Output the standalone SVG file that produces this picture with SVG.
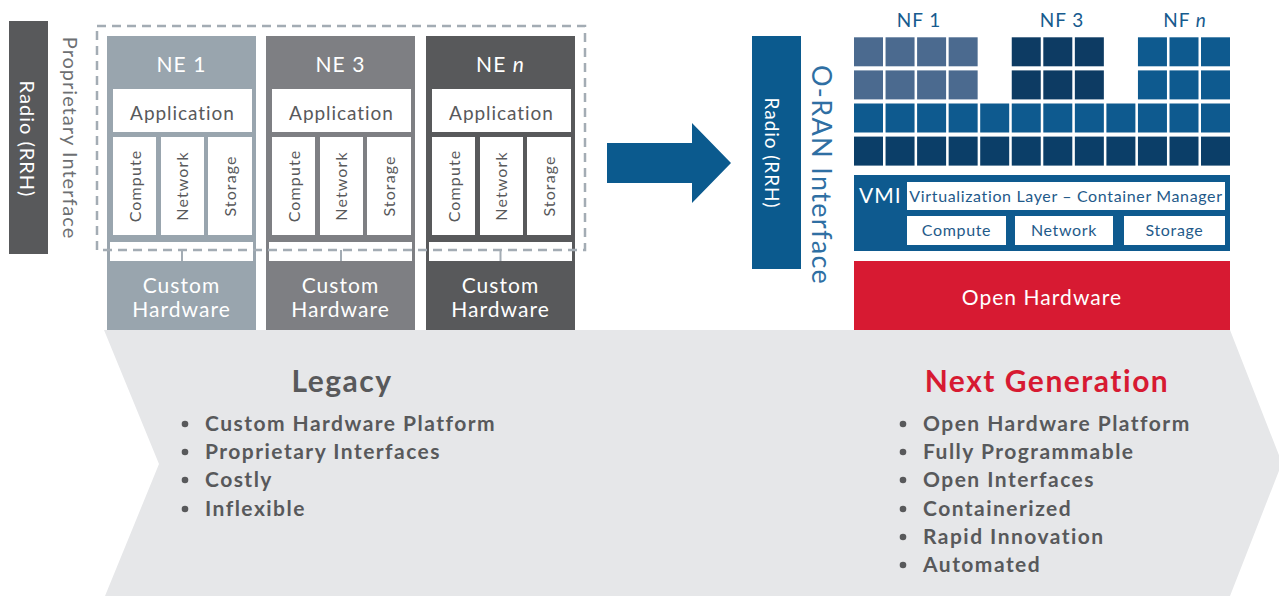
<svg xmlns="http://www.w3.org/2000/svg" width="1279" height="596" viewBox="0 0 1279 596">
<style>
text{font-family:Lato,"Liberation Sans",sans-serif;letter-spacing:0.05em}
.w{fill:#fff}
.ne{font-size:21px;fill:#fff;text-anchor:middle}
.app{font-size:19px;fill:#58595b;text-anchor:middle}
.sub{font-size:16px;fill:#58595b;text-anchor:middle;letter-spacing:0.07em}
.box{fill:#fff}
.dash{fill:none;stroke:#a3acb4;stroke-width:2.5;stroke-dasharray:9 6}
.stub{stroke:#a3acb4;stroke-width:2;fill:none}
.nf1{fill:#4b6a8f}.nf3{fill:#0d3b63}.nfn{fill:#0e5a8f}.r3{fill:#0e5a8f}.r4{fill:#0b3e68}
.nfl{font-size:19px;fill:#175b8e;text-anchor:middle}
.vl{font-size:16px;fill:#1f5a8a;text-anchor:middle;letter-spacing:0.04em}
.hd{font-size:30px;font-weight:bold;text-anchor:middle}
.bl{font-size:21px;font-weight:bold;fill:#58595b;letter-spacing:0.07em}
.dot{fill:#58595b}
</style>
<g id="chevron">
<polygon points="104,330 1230,330 1282,463 1230,596 105,596 159,464" fill="#e6e7e9"/>
</g>
<g id="radio-left">
<rect x="9" y="21" width="39" height="233" fill="#58595b"/>
<text class="w" transform="translate(20,139) rotate(90)" text-anchor="middle" font-size="20">Radio (RRH)</text>
</g>
<g id="proprietary-interface">
<text transform="translate(63,138) rotate(90)" text-anchor="middle" font-size="20" letter-spacing="0.1em" fill="#6d6f72">Proprietary Interface</text>
</g>
<g id="ne1">
<rect x="107" y="36" width="149" height="294" fill="#99a5ae"/>
<rect x="110" y="242" width="143" height="19" class="box"/>
<text class="ne" x="181.5" y="72">NE 1</text>
<rect x="113" y="89" width="139" height="43" class="box"/>
<text class="app" x="182.5" y="120">Application</text>
<rect x="113" y="137" width="43" height="98" class="box"/>
<rect x="161" y="137" width="43" height="98" class="box"/>
<rect x="208" y="137" width="44" height="98" class="box"/>
<text class="sub" transform="translate(140.5,186) rotate(-90)">Compute</text>
<text class="sub" transform="translate(188,186) rotate(-90)">Network</text>
<text class="sub" transform="translate(235.5,186) rotate(-90)">Storage</text>
<text class="ne" x="181.5" y="293">Custom</text>
<text class="ne" x="181.5" y="317">Hardware</text>
</g>
<g id="ne3">
<rect x="266" y="36" width="149" height="294" fill="#7e7f83"/>
<rect x="269" y="242" width="143" height="19" class="box"/>
<text class="ne" x="340.5" y="72">NE 3</text>
<rect x="272" y="89" width="139" height="43" class="box"/>
<text class="app" x="341.5" y="120">Application</text>
<rect x="272" y="137" width="43" height="98" class="box"/>
<rect x="320" y="137" width="43" height="98" class="box"/>
<rect x="367" y="137" width="44" height="98" class="box"/>
<text class="sub" transform="translate(299.5,186) rotate(-90)">Compute</text>
<text class="sub" transform="translate(347,186) rotate(-90)">Network</text>
<text class="sub" transform="translate(394.5,186) rotate(-90)">Storage</text>
<text class="ne" x="340.5" y="293">Custom</text>
<text class="ne" x="340.5" y="317">Hardware</text>
</g>
<g id="nen">
<rect x="426" y="36" width="149" height="294" fill="#58595b"/>
<rect x="429" y="242" width="143" height="19" class="box"/>
<text class="ne" x="500.5" y="72">NE <tspan font-style="italic">n</tspan></text>
<rect x="432" y="89" width="139" height="43" class="box"/>
<text class="app" x="501.5" y="120">Application</text>
<rect x="432" y="137" width="43" height="98" class="box"/>
<rect x="480" y="137" width="43" height="98" class="box"/>
<rect x="527" y="137" width="44" height="98" class="box"/>
<text class="sub" transform="translate(459.5,186) rotate(-90)">Compute</text>
<text class="sub" transform="translate(507,186) rotate(-90)">Network</text>
<text class="sub" transform="translate(554.5,186) rotate(-90)">Storage</text>
<text class="ne" x="500.5" y="293">Custom</text>
<text class="ne" x="500.5" y="317">Hardware</text>
</g>
<g id="connectors">
<rect class="dash" x="97" y="26" width="488" height="224"/>
<path class="stub" d="M182,250V261M341,250V261M500.5,250V261"/>
<polygon points="607,143 692,143 692,123 731,163 692,203 692,183 607,183" fill="#0b5a8e"/>
</g>
<g id="radio-right">
<rect x="752" y="36" width="49" height="233" fill="#0b5a8e"/>
<text class="w" transform="translate(765,153) rotate(90)" text-anchor="middle" font-size="19">Radio (RRH)</text>
</g>
<g id="oran-interface">
<text transform="translate(812,175) rotate(90)" text-anchor="middle" font-size="27" letter-spacing="0.06em" fill="#2f6fa3">O-RAN Interface</text>
</g>
<g id="nf-labels">
<text class="nfl" x="919" y="27">NF 1</text>
<text class="nfl" x="1062" y="27">NF 3</text>
<text class="nfl" x="1185" y="27">NF <tspan font-style="italic">n</tspan></text>
</g>
<g id="nf-grid">
<rect class="nf1" x="854" y="37.3" width="29" height="29"/><rect class="nf1" x="885.55" y="37.3" width="29" height="29"/><rect class="nf1" x="917.1" y="37.3" width="29" height="29"/><rect class="nf1" x="948.65" y="37.3" width="29" height="29"/>
<rect class="nf1" x="854" y="70.4" width="29" height="29"/><rect class="nf1" x="885.55" y="70.4" width="29" height="29"/><rect class="nf1" x="917.1" y="70.4" width="29" height="29"/><rect class="nf1" x="948.65" y="70.4" width="29" height="29"/>
<rect class="nf3" x="1011.75" y="37.3" width="29" height="29"/><rect class="nf3" x="1043.3" y="37.3" width="29" height="29"/><rect class="nf3" x="1074.85" y="37.3" width="29" height="29"/>
<rect class="nf3" x="1011.75" y="70.4" width="29" height="29"/><rect class="nf3" x="1043.3" y="70.4" width="29" height="29"/><rect class="nf3" x="1074.85" y="70.4" width="29" height="29"/>
<rect class="nfn" x="1137.95" y="37.3" width="29" height="29"/><rect class="nfn" x="1169.5" y="37.3" width="29" height="29"/><rect class="nfn" x="1201" y="37.3" width="29" height="29"/>
<rect class="nfn" x="1137.95" y="70.4" width="29" height="29"/><rect class="nfn" x="1169.5" y="70.4" width="29" height="29"/><rect class="nfn" x="1201" y="70.4" width="29" height="29"/>
<rect class="r3" x="854" y="103.5" width="29" height="29"/><rect class="r3" x="885.55" y="103.5" width="29" height="29"/><rect class="r3" x="917.1" y="103.5" width="29" height="29"/><rect class="r3" x="948.65" y="103.5" width="29" height="29"/><rect class="r3" x="980.2" y="103.5" width="29" height="29"/><rect class="r3" x="1011.75" y="103.5" width="29" height="29"/><rect class="r3" x="1043.3" y="103.5" width="29" height="29"/><rect class="r3" x="1074.85" y="103.5" width="29" height="29"/><rect class="r3" x="1106.4" y="103.5" width="29" height="29"/><rect class="r3" x="1137.95" y="103.5" width="29" height="29"/><rect class="r3" x="1169.5" y="103.5" width="29" height="29"/><rect class="r3" x="1201" y="103.5" width="29" height="29"/>
<rect class="r4" x="854" y="136.6" width="29" height="29"/><rect class="r4" x="885.55" y="136.6" width="29" height="29"/><rect class="r4" x="917.1" y="136.6" width="29" height="29"/><rect class="r4" x="948.65" y="136.6" width="29" height="29"/><rect class="r4" x="980.2" y="136.6" width="29" height="29"/><rect class="r4" x="1011.75" y="136.6" width="29" height="29"/><rect class="r4" x="1043.3" y="136.6" width="29" height="29"/><rect class="r4" x="1074.85" y="136.6" width="29" height="29"/><rect class="r4" x="1106.4" y="136.6" width="29" height="29"/><rect class="r4" x="1137.95" y="136.6" width="29" height="29"/><rect class="r4" x="1169.5" y="136.6" width="29" height="29"/><rect class="r4" x="1201" y="136.6" width="29" height="29"/>
</g>
<g id="vmi">
<rect x="854" y="175" width="376" height="76" fill="#0e5a8f"/>
<text class="w" x="859" y="203" font-size="21" letter-spacing="0">VMI</text>
<rect x="907" y="182" width="318" height="28" class="box"/>
<text class="vl" x="1066" y="202" letter-spacing="0.025em">Virtualization Layer – Container Manager</text>
<rect x="907" y="216" width="99" height="29" class="box"/>
<rect x="1015" y="216" width="98" height="29" class="box"/>
<rect x="1124" y="216" width="101" height="29" class="box"/>
<text class="vl" x="956.5" y="236">Compute</text>
<text class="vl" x="1064" y="236">Network</text>
<text class="vl" x="1174.5" y="236">Storage</text>
</g>
<g id="open-hardware">
<rect x="854" y="261" width="376" height="69" fill="#d71a32"/>
<text class="w" x="1042" y="305" text-anchor="middle" font-size="21" letter-spacing="0.07em">Open Hardware</text>
</g>
<g id="legacy">
<text class="hd" x="342" y="392" fill="#58595b">Legacy</text>
<circle class="dot" cx="185" cy="424" r="3.3"/><text class="bl" x="205" y="431">Custom Hardware Platform</text>
<circle class="dot" cx="185" cy="452" r="3.3"/><text class="bl" x="205" y="459">Proprietary Interfaces</text>
<circle class="dot" cx="185" cy="480" r="3.3"/><text class="bl" x="205" y="487">Costly</text>
<circle class="dot" cx="185" cy="509" r="3.3"/><text class="bl" x="205" y="516">Inflexible</text>
</g>
<g id="next-generation">
<text class="hd" x="1047" y="392" fill="#d71a32">Next Generation</text>
<circle class="dot" cx="903" cy="424" r="3.3"/><text class="bl" x="923" y="431">Open Hardware Platform</text>
<circle class="dot" cx="903" cy="452" r="3.3"/><text class="bl" x="923" y="459">Fully Programmable</text>
<circle class="dot" cx="903" cy="480" r="3.3"/><text class="bl" x="923" y="487">Open Interfaces</text>
<circle class="dot" cx="903" cy="509" r="3.3"/><text class="bl" x="923" y="516">Containerized</text>
<circle class="dot" cx="903" cy="537" r="3.3"/><text class="bl" x="923" y="544">Rapid Innovation</text>
<circle class="dot" cx="903" cy="565" r="3.3"/><text class="bl" x="923" y="572">Automated</text>
</g>
</svg>
